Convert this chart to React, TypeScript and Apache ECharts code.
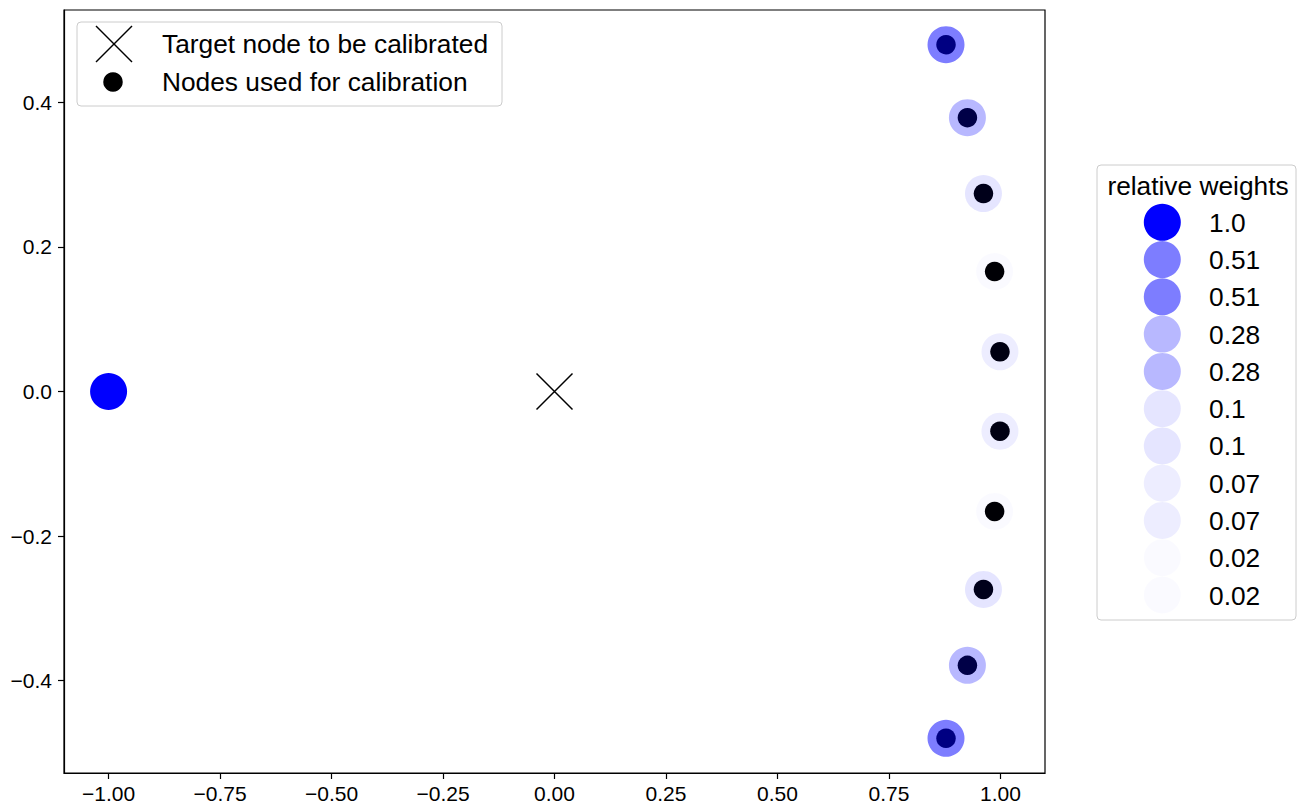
import React, { useEffect, useRef } from "react";
import * as echarts from "echarts";

// ---- data ----
const targetNode: [number, number] = [0, 0];
const sourceNode: [number, number] = [-1, 0];
const sourceWeight = 1.0;
const calibX = [0.878, 0.926, 0.962, 0.987, 0.999, 0.999, 0.987, 0.962, 0.926, 0.878];
const calibY = [0.48, 0.379, 0.274, 0.166, 0.055, -0.055, -0.166, -0.274, -0.379, -0.48];
const calibWeights = [0.51, 0.28, 0.1, 0.02, 0.07, 0.07, 0.02, 0.1, 0.28, 0.51];
const weightLegendLabels = ["1.0", "0.51", "0.51", "0.28", "0.28", "0.1", "0.1", "0.07", "0.07", "0.02", "0.02"];
const weightLegendValues = [1.0, 0.51, 0.51, 0.28, 0.28, 0.1, 0.1, 0.07, 0.07, 0.02, 0.02];
const xTicks = [-1, -0.75, -0.5, -0.25, 0, 0.25, 0.5, 0.75, 1];
const yTicks = [-0.4, -0.2, 0, 0.2, 0.4];
const legendLabels = ["Target node to be calibrated", "Nodes used for calibration"];
const weightLegendTitle = "relative weights";

const FONT = "'Liberation Sans', Arial, Helvetica, sans-serif";
const fmtMinus = (s: string) => s.replace("-", "\u2212");

export default function App() {
  const ref = useRef<HTMLDivElement>(null);
  useEffect(() => {
    if (!ref.current) return;
    const chart = echarts.init(ref.current, undefined, { renderer: "svg" });

    const graphics: any[] = [];
    // legend 1
    graphics.push({
      type: "rect",
      shape: { x: 77, y: 22, width: 425, height: 84, r: 4 },
      style: { fill: "rgba(255,255,255,0.8)", stroke: "#cccccc", lineWidth: 1 },
      z: 100,
    });
    graphics.push({ type: "line", shape: { x1: 96, y1: 26, x2: 132, y2: 62 }, style: { stroke: "#000", lineWidth: 1.5 }, z: 101 });
    graphics.push({ type: "line", shape: { x1: 132, y1: 26, x2: 96, y2: 62 }, style: { stroke: "#000", lineWidth: 1.5 }, z: 101 });
    graphics.push({ type: "circle", shape: { cx: 113, cy: 82, r: 9.75 }, style: { fill: "#000" }, z: 101 });
    legendLabels.forEach((t, i) => {
      graphics.push({
        type: "text",
        x: 162,
        y: 43.5 + i * 38,
        style: { text: t, fontSize: 26.3, fontFamily: FONT, fill: "#000", textVerticalAlign: "middle", verticalAlign: "middle" },
        z: 101,
      });
    });
    // legend 2
    graphics.push({
      type: "rect",
      shape: { x: 1097, y: 165, width: 199, height: 455, r: 4 },
      style: { fill: "rgba(255,255,255,0.8)", stroke: "#cccccc", lineWidth: 1 },
      z: 100,
    });
    graphics.push({
      type: "text",
      x: 1198,
      y: 186,
      style: { text: weightLegendTitle, fontSize: 26.3, fontFamily: FONT, fill: "#000", align: "center", textAlign: "center", verticalAlign: "middle", textVerticalAlign: "middle" },
      z: 101,
    });
    weightLegendLabels.forEach((t, i) => {
      const cy = 222.3 + i * 37.27;
      graphics.push({
        type: "circle",
        shape: { cx: 1162.3, cy, r: 18.5 },
        style: { fill: `rgba(0,0,255,${weightLegendValues[i]})` },
        z: 101,
      });
      graphics.push({
        type: "text",
        x: 1209,
        y: cy + 0.5,
        style: { text: t, fontSize: 26.3, fontFamily: FONT, fill: "#000", verticalAlign: "middle", textVerticalAlign: "middle" },
        z: 101,
      });
    });

    const calibPts = calibX.map((x, i) => [x, calibY[i]]);
    const weightPts = calibX.map((x, i) => ({
      value: [x, calibY[i]],
      itemStyle: { color: `rgba(0,0,255,${calibWeights[i]})`, opacity: 1 },
    }));

    chart.setOption({
      animation: false,
      textStyle: { fontFamily: FONT },
      grid: {
        left: 64,
        right: 253,
        top: 10,
        bottom: 34,
        show: true,
        borderColor: "#000",
        borderWidth: 1.2,
        backgroundColor: "transparent",
      },
      xAxis: {
        type: "value",
        min: -1.1,
        max: 1.1,
        splitLine: { show: false },
        axisLine: { show: true, onZero: false, lineStyle: { color: "#000", width: 1.2 } },
        axisTick: { show: true, length: 6, lineStyle: { color: "#000", width: 1.2 }, customValues: xTicks },
        axisLabel: {
          customValues: xTicks,
          margin: 10,
          fontSize: 21,
          color: "#000",
          fontFamily: FONT,
          formatter: (v: number) => fmtMinus(v.toFixed(2)),
        },
      },
      yAxis: {
        type: "value",
        min: -0.528,
        max: 0.528,
        splitLine: { show: false },
        axisLine: { show: true, onZero: false, lineStyle: { color: "#000", width: 1.2 } },
        axisTick: { show: true, length: 6, lineStyle: { color: "#000", width: 1.2 }, customValues: yTicks },
        axisLabel: {
          customValues: yTicks,
          margin: 12,
          fontSize: 21,
          color: "#000",
          fontFamily: FONT,
          formatter: (v: number) => fmtMinus(v.toFixed(1)),
        },
      },
      series: [
        {
          type: "scatter",
          name: "source",
          data: [sourceNode],
          symbol: "circle",
          symbolSize: 37,
          itemStyle: { color: `rgba(0,0,255,${sourceWeight})`, opacity: 1 },
          z: 2,
        },
        {
          type: "scatter",
          name: legendLabels[1],
          data: calibPts,
          symbol: "circle",
          symbolSize: 19.5,
          itemStyle: { color: "#000", opacity: 1 },
          z: 3,
        },
        {
          type: "scatter",
          name: "weights",
          data: weightPts,
          symbol: "circle",
          symbolSize: 37,
          itemStyle: { opacity: 1 },
          z: 4,
        },
        {
          type: "scatter",
          name: legendLabels[0],
          data: [targetNode],
          symbol: "path://M0,0L10,10M10,0L0,10",
          symbolSize: 36,
          itemStyle: { color: "rgba(0,0,0,0)", borderColor: "#000", borderWidth: 1.5, opacity: 1 },
          z: 5,
        },
      ],
      graphic: graphics,
    });
    return () => chart.dispose();
  }, []);
  return (
    <div
      ref={ref}
      style={{ position: "fixed", left: 0, top: 0, width: 1298, height: 807, background: "#fff" }}
    />
  );
}
